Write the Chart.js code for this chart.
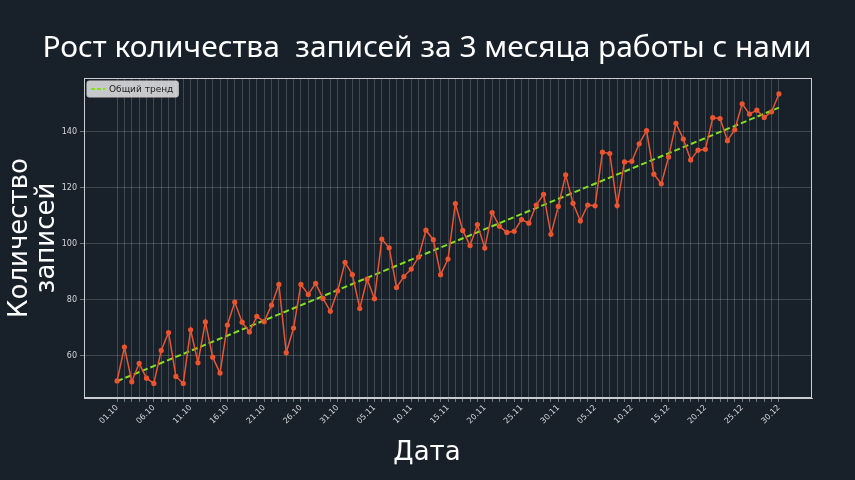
<!DOCTYPE html>
<html>
<head>
<meta charset="utf-8">
<script src="https://cdn.jsdelivr.net/npm/chart.js@4.4.1/dist/chart.umd.min.js"></script>
<style>
  html, body { margin: 0; padding: 0; background: #18202a; }
  #wrap { width: 855px; height: 480px; }
</style>
</head>
<body>
<div id="wrap"><canvas id="graph" width="855" height="480"></canvas></div>
<script>
const dates = [
  "01.10","02.10","03.10","04.10","05.10","06.10","07.10","08.10","09.10","10.10",
  "11.10","12.10","13.10","14.10","15.10","16.10","17.10","18.10","19.10","20.10",
  "21.10","22.10","23.10","24.10","25.10","26.10","27.10","28.10","29.10","30.10","31.10",
  "01.11","02.11","03.11","04.11","05.11","06.11","07.11","08.11","09.11","10.11",
  "11.11","12.11","13.11","14.11","15.11","16.11","17.11","18.11","19.11","20.11",
  "21.11","22.11","23.11","24.11","25.11","26.11","27.11","28.11","29.11","30.11",
  "01.12","02.12","03.12","04.12","05.12","06.12","07.12","08.12","09.12","10.12",
  "11.12","12.12","13.12","14.12","15.12","16.12","17.12","18.12","19.12","20.12",
  "21.12","22.12","23.12","24.12","25.12","26.12","27.12","28.12","29.12","30.12"
];

const records = [
  50.9, 63.0, 50.6, 57.2, 51.9, 50.0, 61.8, 68.2, 52.5, 50.0,
  69.2, 57.4, 72.0, 59.4, 53.7, 70.9, 79.1, 71.9, 68.4, 74.0,
  72.1, 78.0, 85.4, 61.0, 69.8, 85.4, 81.8, 85.8, 80.4, 75.8, 83.1,
  93.3, 88.9, 76.8, 87.3, 80.3, 101.6, 98.5, 84.3, 88.2, 90.9,
  95.2, 104.8, 101.4, 88.9, 94.5, 114.3, 104.7, 99.3, 106.8, 98.4,
  111.1, 106.2, 104.0, 104.4, 108.6, 107.3, 113.8, 117.6, 103.3, 113.3,
  124.6, 114.4, 108.1, 113.8, 113.5, 132.7, 132.2, 113.6, 129.2, 129.4,
  135.7, 140.4, 124.8, 121.4, 131.0, 143.0, 137.4, 129.9, 133.4, 133.7,
  145.0, 144.7, 136.8, 140.7, 150.0, 146.3, 147.7, 145.1, 147.1, 153.5
];

// trend line: start and end values
const trendEnds = [50.8, 148.6];
const yTicks = [60, 80, 100, 120, 140];

const bg = "#18202a";
const gridColor = "rgba(210,215,220,0.28)";
const trendColor = "#86e01e";

const texts = {
  id: "texts",
  beforeDraw(chart) {
    const c = chart.ctx;
    c.save();
    c.fillStyle = bg;
    c.fillRect(0, 0, chart.width, chart.height);
    c.restore();
  },
  afterDraw(chart) {
    const c = chart.ctx;
    const a = chart.chartArea;

    // frame on all four sides
    c.save();
    c.strokeStyle = "#c9cdd1";
    c.lineWidth = 1;
    c.strokeRect(a.left + 0.5, a.top + 0.5, a.right - a.left - 1, a.bottom - a.top - 1);
    c.restore();

    c.save();
    c.fillStyle = "#ffffff";
    c.textAlign = "center";
    c.textBaseline = "alphabetic";

    // title, scaled to the reference width
    const title = "Рост количества  записей за 3 месяца работы с нами";
    c.font = "28px 'Noto Sans'";
    let w = c.measureText(title).width;
    const size = Math.min(34, 28 * 770 / w);
    c.font = size.toFixed(1) + "px 'Noto Sans'";
    c.fillText(title, 427, 57);

    // x label
    c.font = "26px 'DejaVu Sans'";
    c.fillText("Дата", 427, 460);

    // y label
    c.translate(0, (a.top + a.bottom) / 2);
    c.rotate(-Math.PI / 2);
    c.fillText("Количество", 0, 27);
    c.fillText("записей", 0, 54);
    c.restore();

    // legend
    c.save();
    const label = "Общий тренд";
    c.font = "9px 'DejaVu Sans'";
    const tw = c.measureText(label).width;
    const lx = a.left + 3, ly = a.top + 3;
    c.fillStyle = "rgba(230,230,230,0.85)";
    c.strokeStyle = "#c8c8c8";
    c.lineWidth = 1;
    c.beginPath();
    c.roundRect(lx, ly, tw + 27, 16, 2);
    c.fill();
    c.stroke();
    c.strokeStyle = trendColor;
    c.lineWidth = 2;
    c.setLineDash([4, 2]);
    c.beginPath();
    c.moveTo(lx + 4, ly + 8);
    c.lineTo(lx + 18, ly + 8);
    c.stroke();
    c.fillStyle = "#222222";
    c.textAlign = "left";
    c.textBaseline = "middle";
    c.fillText(label, lx + 22, ly + 8.5);
    c.restore();
  }
};

const ctx = document.getElementById("graph").getContext("2d");

new Chart(ctx, {
  type: "line",
  data: {
    datasets: [
      {
        label: "Записи",
        data: records.map((v, i) => ({ x: i, y: v })),
        borderColor: "#ea5530",
        backgroundColor: "#ea5530",
        borderWidth: 1.5,
        pointRadius: 2.6,
        pointBorderWidth: 0,
        tension: 0,
      },
      {
        label: "Общий тренд",
        data: [
          { x: 0, y: trendEnds[0] },
          { x: dates.length - 1, y: trendEnds[1] },
        ],
        borderColor: trendColor,
        borderWidth: 2,
        borderDash: [6, 3],
        pointRadius: 0,
        tension: 0,
      },
    ],
  },
  options: {
    responsive: false,
    animation: false,
    layout: { autoPadding: false, padding: { top: 78, right: 43, left: 0, bottom: 0 } },
    plugins: {
      legend: { display: false },
      tooltip: { enabled: false },
    },
    scales: {
      x: {
        type: "linear",
        min: -4.5,
        max: dates.length - 1 + 4.5,
        afterBuildTicks: (axis) => {
          axis.ticks = dates.map((_, i) => ({ value: i }));
        },
        afterFit: (axis) => { axis.height = 82; },
        grid: { color: gridColor, lineWidth: 0.8, tickLength: 4, tickColor: "rgba(210,215,220,0.6)" },
        border: { color: "#c9cdd1", width: 1 },
        ticks: {
          autoSkip: false,
          maxRotation: 45,
          minRotation: 45,
          padding: 1,
          color: "#d4d7da",
          font: { family: "DejaVu Sans", size: 8 },
          callback: (v) => (v % 5 === 0 ? dates[v] : ""),
        },
      },
      y: {
        min: 44.8,
        max: 159.2,
        afterBuildTicks: (axis) => {
          axis.ticks = yTicks.map((v) => ({ value: v }));
        },
        afterFit: (axis) => { axis.width = 84; },
        grid: { color: gridColor, lineWidth: 0.8, tickLength: 4, tickColor: "rgba(210,215,220,0.6)" },
        border: { color: "#c9cdd1", width: 1 },
        ticks: {
          padding: 3,
          color: "#d4d7da",
          font: { family: "DejaVu Sans", size: 8 },
        },
      },
    },
  },
  plugins: [texts],
});
</script>
</body>
</html>
